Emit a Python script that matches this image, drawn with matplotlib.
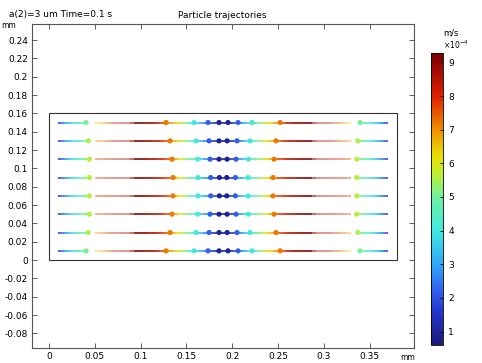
import numpy as np
import matplotlib
matplotlib.use("Agg")
import matplotlib.pyplot as plt
from matplotlib.collections import LineCollection
from matplotlib.colors import LinearSegmentedColormap, Normalize
from matplotlib.patches import Rectangle
from matplotlib.ticker import FuncFormatter


# rows of released particles, top to bottom (mm)
ROW_Y = [0.15, 0.13, 0.11, 0.09, 0.07, 0.05, 0.03, 0.01]
ROW_KIND = [0, 1, 2, 3, 3, 2, 1, 0]

# particle positions at t = 0.1 s, one list per row kind (mm)
DOT_X = [
    [0.0404, 0.1277, 0.1583, 0.1736, 0.1856, 0.1954, 0.2064, 0.2217, 0.2523, 0.3396],
    [0.0429, 0.1321, 0.1605, 0.1747, 0.1856, 0.1944, 0.2053, 0.2195, 0.2479, 0.3371],
    [0.0440, 0.1343, 0.1623, 0.1758, 0.1856, 0.1944, 0.2042, 0.2177, 0.2457, 0.3360],
    [0.0440, 0.1354, 0.1626, 0.1765, 0.1860, 0.1940, 0.2035, 0.2174, 0.2446, 0.3360],
]
# particle speeds (x1e-4 m/s)
DOT_SPEED = [5.4, 7.2, 4.1, 2.2, 1.0, 1.0, 2.2, 4.1, 7.2, 5.4]
OUTER_SPEED = [5.1, 5.5, 5.6, 5.6]
TRAIL_START = [6.0, 6.6, 7.4, 7.6]

# speed along the long middle trails (x in mm, speed x1e-4 m/s)
MID_X_LEFT = [0.075, 0.100, 0.118, 0.145]
MID_V_LEFT = [8.4, 9.2, 8.4, 5.8]
MID_X_RIGHT = [0.235, 0.262, 0.280, 0.305]
MID_V_RIGHT = [5.8, 8.4, 9.2, 8.4]
MID_START, MID_END = 0.050, 0.330

# faded part of the trails
FADE_X = [0.050, 0.088, 0.094, 0.286, 0.292, 0.330]
FADE_A = [0.5, 0.5, 1.0, 1.0, 0.5, 0.5]

# short outer trails
TAIL_X_LEFT = [0.0102, 0.025]
TAIL_V_LEFT = [1.8, 3.8]
TAIL_X_RIGHT = [0.355, 0.3697]
TAIL_V_RIGHT = [3.8, 1.8]

CBAR_TICKS = [1, 2, 3, 4, 5, 6, 7, 8, 9]
VMIN, VMAX = 0.6, 9.27

RAINBOW = [
    (0.6, "#1c1c78"), (1.5, "#2232c8"), (2.2, "#3060f0"), (3.0, "#30a8f8"),
    (4.0, "#40e8e0"), (5.0, "#70f0a0"), (5.7, "#c0f030"), (6.2, "#e8e000"),
    (7.0, "#f09000"), (8.0, "#e02000"), (9.27, "#7a0000"),
]

cmap = LinearSegmentedColormap.from_list(
    "rainbow", [((v - VMIN) / (VMAX - VMIN), c) for v, c in RAINBOW]
)
norm = Normalize(VMIN, VMAX)


def trail(ax, xs, vs, y, fade=True):
    xx = np.linspace(xs[0], xs[-1], 60)
    vv = np.interp(xx, xs, vs)
    pts = np.column_stack([xx, np.full_like(xx, y)])
    segs = np.stack([pts[:-1], pts[1:]], axis=1)
    mid_v = 0.5 * (vv[:-1] + vv[1:])
    colors = cmap(norm(mid_v))
    if fade:
        mid_x = 0.5 * (xx[:-1] + xx[1:])
        colors[:, 3] = np.interp(mid_x, FADE_X, FADE_A)
    ax.add_collection(LineCollection(segs, colors=colors, linewidths=1.2,
                                     capstyle="butt"))


fig = plt.figure(figsize=(4.82, 3.63), dpi=100)
ax = fig.add_axes([0.0664, 0.0413, 0.7925, 0.8926])

ax.add_patch(Rectangle((0, 0), 0.38, 0.16, fill=False, edgecolor="#333333", lw=0.8))

for y, k in zip(ROW_Y, ROW_KIND):
    dx = DOT_X[k]
    speeds = list(DOT_SPEED)
    speeds[0] = speeds[-1] = OUTER_SPEED[k]

    trail(ax, TAIL_X_LEFT + [dx[0]], TAIL_V_LEFT + [speeds[0]], y, fade=False)
    trail(ax, [dx[-1]] + TAIL_X_RIGHT, [speeds[-1]] + TAIL_V_RIGHT, y, fade=False)

    xs = [MID_START] + MID_X_LEFT[:3] + [dx[1], MID_X_LEFT[3]] + dx[2:8] \
        + [MID_X_RIGHT[0], dx[8]] + MID_X_RIGHT[1:] + [MID_END]
    vs = [TRAIL_START[k]] + MID_V_LEFT[:3] + [speeds[1], MID_V_LEFT[3]] + speeds[2:8] \
        + [MID_V_RIGHT[0], speeds[8]] + MID_V_RIGHT[1:] + [TRAIL_START[k]]
    order = np.argsort(xs)
    trail(ax, list(np.array(xs)[order]), list(np.array(vs)[order]), y)

    ax.scatter(dx, [y] * len(dx), c=speeds, cmap=cmap, norm=norm, s=14,
               linewidths=0, zorder=3)

ax.set_xlim(-0.0186, 0.3985)
ax.set_ylim(-0.096, 0.2575)
ax.set_xticks([0, 0.05, 0.1, 0.15, 0.2, 0.25, 0.3, 0.35])
ax.set_yticks(np.round(np.arange(-0.08, 0.241, 0.02), 2))
fmt = FuncFormatter(lambda v, p: f"{round(v, 4):g}".replace("\u2212", "-"))
ax.xaxis.set_major_formatter(fmt)
ax.yaxis.set_major_formatter(fmt)
ax.tick_params(direction="in", length=3.5, width=0.6, color="#444444",
               labelsize=6.5, pad=3, top=True, right=True)
for s in ax.spines.values():
    s.set_color("#555555")
    s.set_linewidth(0.8)

fig.text(0.019, 1 - 15 / 363, "a(2)=3 um Time=0.1 s", fontsize=6.5, va="center")
fig.text(222 / 482, 1 - 15 / 363, "Particle trajectories", fontsize=6.5,
         va="center", ha="center")
fig.text(0.002, 1 - 26 / 363, "mm", fontsize=5.5, va="center")
fig.text(408 / 482, 1 - 357 / 363, "mm", fontsize=5.5, va="center", ha="center")

cax = fig.add_axes([430.7 / 482, 1 - 345 / 363, 12 / 482, (345 - 53.3) / 363])
sm = plt.cm.ScalarMappable(norm=norm, cmap=cmap)
cb = fig.colorbar(sm, cax=cax, ticks=CBAR_TICKS)
cb.outline.set_linewidth(0.6)
cb.ax.tick_params(direction="in", length=2.5, width=0.6, labelsize=6.5, pad=4)
fig.text(443 / 482, 1 - 33 / 363, "m/s", fontsize=6, va="center")
fig.text(443 / 482, 1 - 45 / 363, r"$\times10^{-4}$", fontsize=5.5, va="center")

fig.savefig("out.png", dpi=100)
